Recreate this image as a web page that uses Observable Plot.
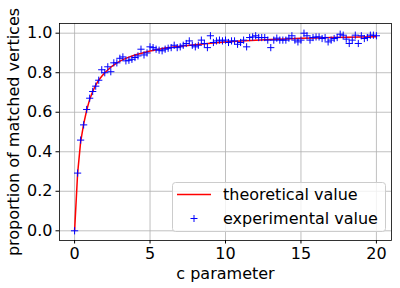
<!DOCTYPE html>
<html>
<head>
<meta charset="utf-8">
<script src="https://cdn.jsdelivr.net/npm/d3@7"></script>
<script src="https://cdn.jsdelivr.net/npm/@observablehq/plot@0.6"></script>
<style>
  html, body { margin: 0; padding: 0; background: #fff; }
  svg { font-family: "DejaVu Sans", sans-serif; }
</style>
</head>
<body>
<div id="chart"></div>
<script>
// Theoretical curve
const theoC = [0,0.2,0.4,0.6,0.8,1.0,1.2,1.4,1.6,1.8,2.0,2.4,2.8,3.2,3.6,4.0,4.5,5.0,5.5,6,7,8,9,10,11,12,13,14,15,16,17,18,19,20];
const theoV = [0,0.29,0.45,0.54,0.61,0.665,0.705,0.737,0.762,0.782,0.80,0.828,0.850,0.866,0.879,0.89,0.90,0.91,0.918,0.925,0.934,0.942,0.949,0.955,0.96,0.964,0.968,0.971,0.974,0.976,0.978,0.98,0.981,0.982];

// Experimental values at c = 0, 0.2, ..., 20
const expV = [
  0.0, 0.292, 0.459, 0.536, 0.614, 0.671, 0.705, 0.732, 0.762, 0.815,
  0.80, 0.83, 0.805, 0.85, 0.85, 0.873, 0.88, 0.86, 0.863, 0.868,
  0.877, 0.885, 0.919, 0.89, 0.90, 0.931, 0.927, 0.919, 0.914, 0.911,
  0.919, 0.924, 0.927, 0.939, 0.927, 0.931, 0.939, 0.948, 0.961, 0.939,
  0.931, 0.939, 0.965, 0.948, 0.927, 0.987, 0.953, 0.961, 0.965, 0.961,
  0.965, 0.953, 0.961, 0.961, 0.944, 0.953, 0.965, 0.931, 0.978, 0.981,
  0.987, 0.978, 0.978, 0.978, 0.965, 0.927, 0.965, 0.975, 0.965, 0.965,
  0.965, 0.975, 0.987, 0.965, 0.956, 0.965, 1.0, 0.987, 0.965, 0.978,
  0.981, 0.981, 0.973, 0.978, 0.956, 0.965, 0.973, 0.978, 0.995, 0.99,
  0.970, 0.948, 0.965, 0.99, 0.948, 0.987, 0.973, 0.978, 0.99, 0.99,
  0.987
];
const expC = expV.map((_, i) => +(i * 0.2).toFixed(1));

const xTicks = [0, 5, 10, 15, 20];
const yTicks = [0, 0.2, 0.4, 0.6, 0.8, 1.0];

const theo = theoC.map((c, i) => ({c, v: theoV[i]}));
const expt = expC.map((c, i) => ({c, v: expV[i]}));

const plusSymbol = {
  draw(context, size) {
    const h = Math.sqrt(size / Math.PI);
    context.moveTo(-h, 0); context.lineTo(h, 0);
    context.moveTo(0, -h); context.lineTo(0, h);
  }
};

const FS = 16;

const chart = Plot.plot({
  width: 400,
  height: 288,
  marginLeft: 59,
  marginRight: 9,
  marginTop: 23,
  marginBottom: 48,
  style: {fontFamily: "DejaVu Sans, sans-serif", background: "#fff", color: "#000"},
  x: {domain: [-1, 21]},
  y: {domain: [-0.0491, 1.0491]},
  marks: [
    Plot.gridX(xTicks, {stroke: "#b0b0b0", strokeOpacity: 1, strokeWidth: 0.8}),
    Plot.gridY(yTicks, {stroke: "#b0b0b0", strokeOpacity: 1, strokeWidth: 0.8}),
    Plot.axisX(xTicks, {tickSize: 3.5, tickPadding: 3.5, fontSize: FS, label: null, tickFormat: d => String(d), stroke: "#000"}),
    Plot.axisY(yTicks, {tickSize: 3.5, tickPadding: 3.5, fontSize: FS, label: null, tickFormat: d => d.toFixed(1), stroke: "#000"}),
    Plot.line(theo, {x: "c", y: "v", stroke: "red", strokeWidth: 1.5}),
    Plot.dot(expt, {x: "c", y: "v", symbol: plusSymbol, r: 3.6, stroke: "blue", fill: "none", strokeWidth: 1}),
    Plot.frame({stroke: "#000", strokeWidth: 0.8}),
    Plot.text(["c parameter"], {frameAnchor: "bottom", dy: 33, lineAnchor: "middle", fontSize: FS, fill: "#000", textAnchor: "middle"}),
    Plot.text(["proportion of matched vertices"], {frameAnchor: "left", dx: -46, rotate: -90, fontSize: FS, fill: "#000", textAnchor: "middle"})
  ]
});

// Legend
const svg = d3.select(chart);
const lg = svg.append("g").attr("text-anchor", "start");
lg.append("rect").attr("x", 172.5).attr("y", 182.5).attr("width", 213).attr("height", 49)
  .attr("rx", 3).attr("fill", "#fff").attr("fill-opacity", 0.8).attr("stroke", "#cccccc");
lg.append("line").attr("x1", 177).attr("x2", 211).attr("y1", 194.5).attr("y2", 194.5)
  .attr("stroke", "red").attr("stroke-width", 1.5);
lg.append("path").attr("d", "M190.5,218.5h7M194,215v7").attr("stroke", "blue").attr("fill", "none");
lg.append("text").attr("x", 223).attr("y", 200).attr("font-size", FS).attr("fill", "#000").attr("text-anchor", "start").text("theoretical value");
lg.append("text").attr("x", 223).attr("y", 224).attr("font-size", FS).attr("fill", "#000").attr("text-anchor", "start").text("experimental value");

document.getElementById("chart").appendChild(chart);
</script>
</body>
</html>
